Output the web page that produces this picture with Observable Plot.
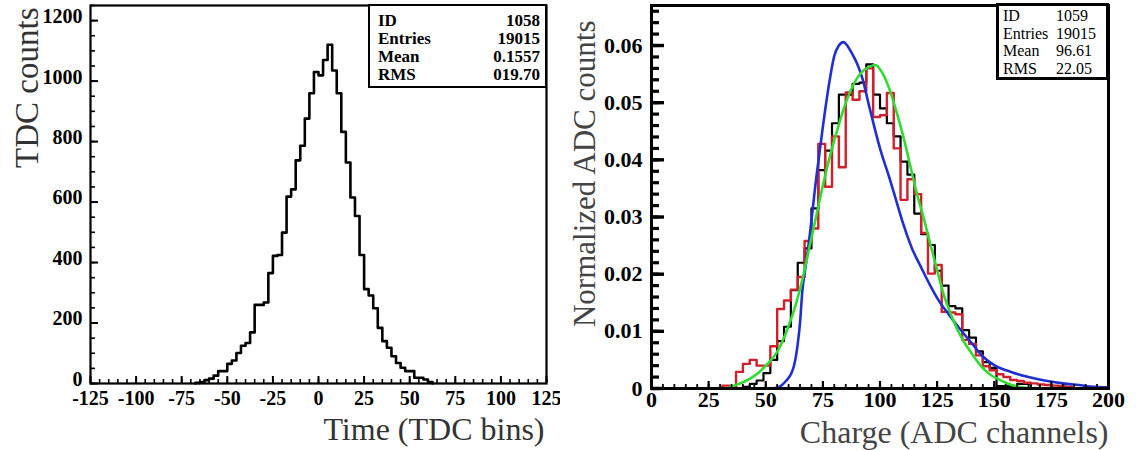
<!DOCTYPE html>
<html><head><meta charset="utf-8">
<script src="https://cdn.jsdelivr.net/npm/d3@7"></script>
<script src="https://cdn.jsdelivr.net/npm/@observablehq/plot@0.6"></script>
<style>
html,body{margin:0;padding:0;background:#fff;}
#wrap{position:relative;width:1139px;height:450px;overflow:hidden;font-family:"Liberation Serif",serif;background:#fff;}
#wrap svg, #wrap svg text{font-family:"Liberation Serif",serif;}
#left{position:absolute;left:0;top:0;}
#right{position:absolute;left:560px;top:0;}
.stats{position:absolute;background:#fff;border:solid #000;box-sizing:border-box;color:#000;}
.stats .row{display:flex;justify-content:space-between;}
</style></head><body>
<div id="wrap"><div id="left"></div><div id="right"></div></div>
<script>
// ---- Left panel: TDC time histogram (bin width 2.5) ----
const tdcStart = -67.5;
const tdcWidth = 2.5;
const tdcCounts = [2, 5, 11, 16, 26, 41, 41, 65, 76, 101, 125, 134, 169, 260, 260, 268, 365, 422, 425, 499,
  618, 642, 738, 786, 876, 960, 1030, 1019, 1070, 1120, 1035, 960, 832, 731, 615, 554, 425, 312, 291, 249,
  184, 140, 118, 90, 68, 52, 41, 41, 19, 19, 13, 5];

// ---- Right panel: normalized ADC charge histograms (bin width 3) ----
const adcWidth = 3;
const adcBlackStart = 40;
const adcBlack = [0.0003, 0.0008, 0.0014, 0.0027, 0.0050, 0.0083, 0.0108, 0.0172, 0.0220, 0.0245,
  0.0315, 0.0382, 0.0416, 0.0464, 0.0514, 0.0514, 0.0533, 0.0535, 0.0567, 0.0514,
  0.0490, 0.0464, 0.0441, 0.0397, 0.0374, 0.0306, 0.0270, 0.0251, 0.0206, 0.0180,
  0.0144, 0.0140, 0.0102, 0.0089, 0.0065, 0.0046, 0.0036, 0.0004, 0.0004, 0.0004,
  0.0008, 0.0008];
const adcRedStart = 31;
const adcRed = [0.0005, 0.0000, 0.0029, 0.0043, 0.0050, 0.0040, 0.0040, 0.0074, 0.0139, 0.0154,
  0.0173, 0.0195, 0.0258, 0.0280, 0.0428, 0.0353, 0.0441, 0.0387, 0.0518, 0.0505,
  0.0520, 0.0560, 0.0475, 0.0478, 0.0517, 0.0420, 0.0330, 0.0366, 0.0340, 0.0272,
  0.0201, 0.0216, 0.0134, 0.0133, 0.0130, 0.0085, 0.0078, 0.0058, 0.0039, 0.0032,
  0.0025, 0.0020, 0.0015, 0.0013, 0.0010, 0.0009, 0.0007, 0.0006, 0.0005, 0.0004, 0.0003];

// blue and green model curves
const blueX = [53, 56, 59, 61, 62.5, 64, 65, 66, 67.5, 69, 72, 75, 78, 80, 82, 84, 86, 88, 90, 92.5,
  95, 97.5, 100, 104, 107, 110, 114, 118, 122, 126, 130, 135, 140, 145, 150, 158, 165, 172, 180, 187, 194, 200];
const blueY = [0, 0.0003, 0.0014, 0.0025, 0.0042, 0.0078, 0.0115, 0.0170, 0.0215, 0.0260, 0.0365, 0.0458,
  0.0540, 0.0582, 0.0600, 0.0606, 0.0598, 0.0584, 0.0568, 0.0540, 0.0498, 0.0458, 0.0420, 0.0370, 0.0330,
  0.0290, 0.0245, 0.0212, 0.0180, 0.0152, 0.0130, 0.0104, 0.0080, 0.0056, 0.0041, 0.0028, 0.0020, 0.0014,
  0.0009, 0.0006, 0.0003, 0.0002];
const greenX = [33, 36, 40, 43, 47, 50, 54.5, 59, 63, 66, 69, 72, 75, 78, 81, 84, 87, 90, 93, 96, 98,
  101, 104, 107, 110, 113, 116, 119, 122, 125, 128, 131, 134, 137, 140, 144, 148, 152, 157, 162, 166];
const greenY = [0, 0.0005, 0.0011, 0.0017, 0.0028, 0.0040, 0.0061, 0.0099, 0.0145, 0.0190, 0.0245, 0.0300,
  0.0355, 0.0405, 0.0448, 0.0488, 0.0520, 0.0543, 0.0557, 0.0564, 0.0566, 0.0552, 0.0525, 0.0487, 0.0444,
  0.0394, 0.0343, 0.0300, 0.0253, 0.0207, 0.0163, 0.0130, 0.0102, 0.0080, 0.0062, 0.0040, 0.0025, 0.0016,
  0.0007, 0.0002, 0];

// axis ticks and labels
const leftXTicks = [-125, -100, -75, -50, -25, 0, 25, 50, 75, 100, 125];
const leftYTicks = [0, 200, 400, 600, 800, 1000, 1200];
const rightXTicks = [0, 25, 50, 75, 100, 125, 150, 175, 200];
const rightYTicks = [0, 0.01, 0.02, 0.03, 0.04, 0.05, 0.06];
const leftXTitle = "Time (TDC bins)";
const leftYTitle = "TDC counts";
const rightXTitle = "Charge (ADC channels)";
const rightYTitle = "Normalized ADC counts";

// stats boxes
const statNames = ["ID", "Entries", "Mean", "RMS"];
const statLeftValues = ["1058", "19015", "0.1557", "019.70"];
const statRightValues = ["1059", "19015", "96.61", "22.05"];

function histRows(start, width, counts) {
  const rows = [{x: start, y: 0}];
  counts.forEach((c, i) => rows.push({x: start + i * width, y: c}));
  rows.push({x: start + counts.length * width, y: 0});
  return rows;
}

const font = "Liberation Serif";
const titleColor = "#333";

const left = Plot.plot({
  width: 560, height: 450,
  marginLeft: 90, marginRight: 14, marginTop: 5, marginBottom: 67,
  x: {domain: [-125, 125]},
  y: {domain: [0, 1250]},
  style: {fontFamily: font, background: "white", overflow: "visible"},
  marks: [
    Plot.line(histRows(tdcStart, tdcWidth, tdcCounts), {x: "x", y: "y", curve: "step-after", stroke: "#000", strokeWidth: 2.6}),
    Plot.axisX(d3.range(-125, 125.1, 5), {tickSize: -4, strokeWidth: 1.6, fill: "none", label: null}),
    Plot.axisX(leftXTicks, {tickSize: -7, strokeWidth: 2, fill: "none", label: null}),
    Plot.axisX(leftXTicks, {tickSize: 0, tickPadding: 7, tickFormat: d => String(d), fontSize: 20, fontWeight: "bold", fontVariant: "normal", label: null}),
    Plot.axisY(d3.range(0, 1251, 50), {tickSize: -5, strokeWidth: 1.6, fill: "none", label: null}),
    Plot.axisY(leftYTicks, {tickSize: -8, strokeWidth: 2, fill: "none", label: null}),
    Plot.axisY(leftYTicks, {tickSize: 0, tickPadding: 8, dy: -4, tickFormat: d => String(d), fontSize: 20, fontWeight: "bold", fontVariant: "normal", label: null}),
    Plot.frame({stroke: "#000", strokeWidth: 2.2}),
    Plot.text([leftXTitle], {text: d => d, frameAnchor: "bottom-right", textAnchor: "end", lineAnchor: "middle", dy: 46, dx: -2, fontSize: 32, fill: titleColor}),
    Plot.text([leftYTitle], {text: d => d, frameAnchor: "top-left", rotate: -90, textAnchor: "end", lineAnchor: "middle", dx: -63, dy: 2, fontSize: 33, fill: titleColor})
  ]
});
document.getElementById("left").appendChild(left);

const right = Plot.plot({
  width: 579, height: 450,
  marginLeft: 91, marginRight: 31, marginTop: 5, marginBottom: 62,
  x: {domain: [0, 200]},
  y: {domain: [0, 0.067]},
  style: {fontFamily: font, background: "white", overflow: "visible"},
  marks: [
    Plot.line(histRows(adcBlackStart, adcWidth, adcBlack), {x: "x", y: "y", curve: "step-after", stroke: "#000", strokeWidth: 2.2, clip: true}),
    Plot.line(histRows(adcRedStart, adcWidth, adcRed), {x: "x", y: "y", curve: "step-after", stroke: "#d21f2c", strokeWidth: 2.4, clip: true}),
    Plot.line(blueX.map((x, i) => ({x, y: blueY[i]})), {x: "x", y: "y", curve: "monotone-x", stroke: "#1f2fd0", strokeWidth: 2.6, clip: true}),
    Plot.line(greenX.map((x, i) => ({x, y: greenY[i]})), {x: "x", y: "y", curve: "monotone-x", stroke: "#2fdc2f", strokeWidth: 2.6, clip: true}),
    Plot.axisX(d3.range(0, 200.1, 5), {tickSize: -4, strokeWidth: 1.8, fill: "none", label: null}),
    Plot.axisX(rightXTicks, {tickSize: -7, strokeWidth: 2.2, fill: "none", label: null}),
    Plot.axisX(rightXTicks, {tickSize: 0, tickPadding: 3, tickFormat: d => String(d), fontSize: 22, fontWeight: "bold", fontVariant: "normal", label: null}),
    Plot.axisY(d3.range(0, 0.0671, 0.002), {tickSize: -8, strokeWidth: 3.2, fill: "none", label: null}),
    Plot.axisY(rightYTicks, {tickSize: -13, strokeWidth: 3.4, fill: "none", label: null}),
    Plot.axisY(rightYTicks, {tickSize: 0, tickPadding: 9, tickFormat: d => String(d), fontSize: 22, fontWeight: "bold", fontVariant: "normal", label: null}),
    Plot.frame({stroke: "#000", strokeWidth: 3}),
    Plot.text([rightXTitle], {text: d => d, frameAnchor: "bottom-right", textAnchor: "end", lineAnchor: "middle", dy: 44, dx: 0, fontSize: 32, fill: "#444"}),
    Plot.text([rightYTitle], {text: d => d, frameAnchor: "top-left", rotate: -90, textAnchor: "end", lineAnchor: "middle", dx: -66, dy: 15, fontSize: 31, fill: "#444"})
  ]
});
document.getElementById("right").appendChild(right);

function statsBox(values, css, valueWidth) {
  const box = document.createElement("div");
  box.className = "stats";
  Object.assign(box.style, css);
  statNames.forEach((name, i) => {
    const row = document.createElement("div");
    row.className = "row";
    const a = document.createElement("span"); a.textContent = name;
    const b = document.createElement("span"); b.textContent = values[i];
    if (valueWidth) { b.style.width = valueWidth; }
    row.appendChild(a); row.appendChild(b);
    box.appendChild(row);
  });
  document.getElementById("wrap").appendChild(box);
}
statsBox(statLeftValues,
  {left: "368px", top: "4px", width: "179px", height: "84px", borderWidth: "2.5px", padding: "6px 5px 0 8px", fontWeight: "bold", fontSize: "17px", lineHeight: "18px"},
  null);
statsBox(statRightValues,
  {left: "996px", top: "3px", width: "113px", height: "77px", borderWidth: "3px", padding: "1px 4px 0 4px", fontWeight: "normal", fontSize: "16px", lineHeight: "17.6px"},
  "46px");
</script></body></html>
